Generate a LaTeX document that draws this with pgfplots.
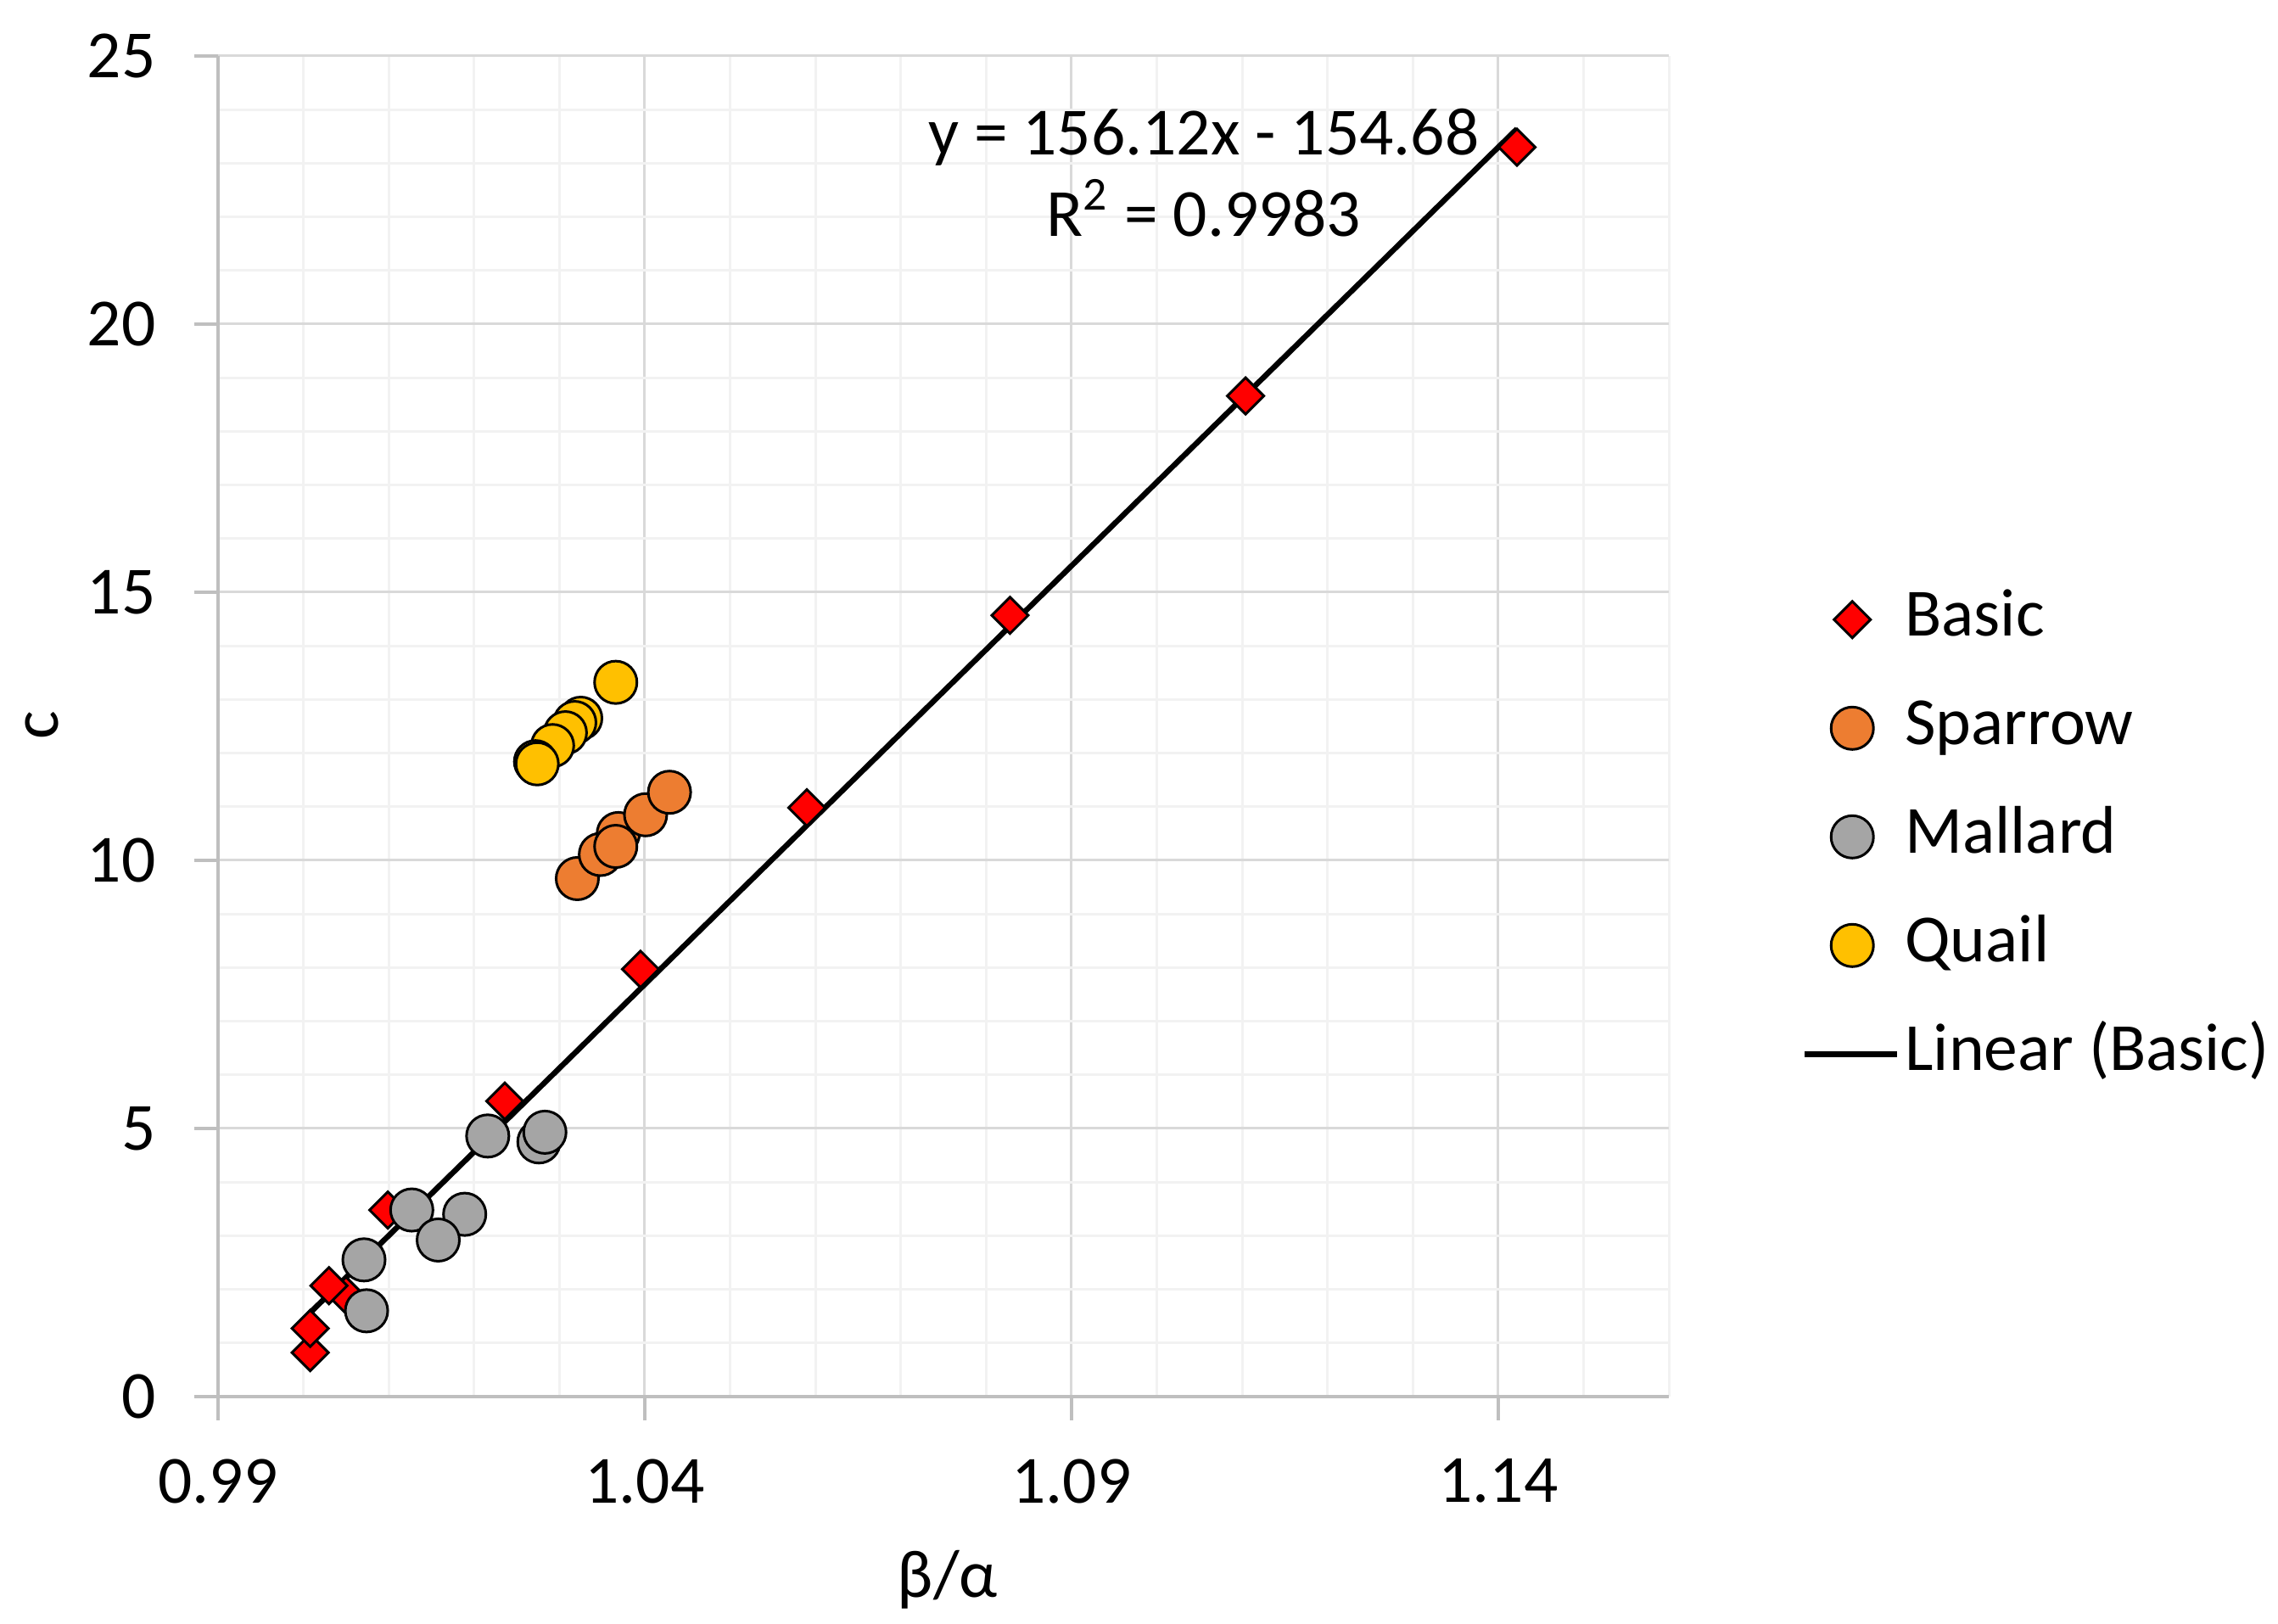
\documentclass[border=0pt]{standalone}
\usepackage{fontspec}
\setmainfont{Carlito}
\usepackage{pgfplots}
\pgfplotsset{compat=1.18}
\definecolor{basicred}{HTML}{FF0000}
\definecolor{sparrow}{HTML}{ED7D31}
\definecolor{mallard}{HTML}{A5A5A5}
\definecolor{quail}{HTML}{FFC000}
\definecolor{axisgray}{HTML}{BFBFBF}
\definecolor{majgrid}{HTML}{D9D9D9}
\definecolor{mingrid}{HTML}{F2F2F2}
\pgfplotsset{
  markleg/.style={legend image code/.code={\path[draw=none,fill=none] (0bp,-5bp) rectangle (21.8bp,5bp); \draw[##1,only marks] plot coordinates {(11.2bp,0bp)};}},
  lineleg/.style={legend image code/.code={\draw[##1] (0bp,0bp) -- (21.8bp,0bp);}},
}
\begin{document}
\fontsize{15.9bp}{19bp}\selectfont
\begin{tikzpicture}
\useasboundingbox (0,0) rectangle (537bp,382.8bp);
\begin{axis}[
  at={(51.4bp,53.6bp)}, anchor=south west,
  scale only axis, width=342bp, height=316bp,
  xmin=0.99, xmax=1.16, ymin=0, ymax=25,
  axis x line*=bottom, axis y line*=left,
  axis line style={draw=axisgray, line width=0.7bp},
  xtick={0.99,1.04,1.09,1.14},
  xticklabels={0.99,1.04,1.09,1.14},
  ytick={0,5,10,15,20,25},
  yticklabels={0,5,10,15,20,25},
  minor xtick={1.00,1.01,1.02,1.03,1.05,1.06,1.07,1.08,1.10,1.11,1.12,1.13,1.15,1.16},
  minor ytick={1,2,3,4,6,7,8,9,11,12,13,14,16,17,18,19,21,22,23,24},
  grid=both,
  major grid style={draw=majgrid, line width=0.6bp},
  minor grid style={draw=mingrid, line width=0.6bp},
  tick align=outside,
  major tick length=5.6bp, minor tick length=0pt,
  tick style={draw=axisgray, line width=0.7bp},
  xticklabel style={anchor=north, inner sep=0pt, yshift=-8.9bp},
  yticklabel style={anchor=east, inner sep=0pt, xshift=-8.9bp},
  xlabel={β/α}, ylabel={c},
  xlabel style={at={(axis description cs:0.5029,-0.15)}, anchor=base, inner sep=0pt},
  ylabel style={at={(axis description cs:-0.1211,0.5006)}, anchor=center, inner sep=0pt},
  legend style={at={(axis description cs:1.0918,0.6025)}, anchor=north west, draw=none, fill=none,
    inner sep=0pt, outer sep=0pt, row sep=11.1bp, column sep=1.2bp,
    nodes={inner sep=0pt, text height=11bp, text depth=3.5bp}},
  legend cell align=left,
  clip=false,
]
\addplot[only marks, mark=square*, mark size=3.04bp,
  mark options={rotate=45, fill=basicred, draw=black, line width=0.6bp}, markleg]
coordinates {
(1.0008,0.82) (1.0008,1.27) (1.0050,1.89) (1.0030,2.07) (1.0099,3.48) (1.0236,5.51)
(1.0395,7.97) (1.0590,10.98) (1.0828,14.57) (1.1104,18.66) (1.1422,23.30)
};
\addlegendentry{Basic}
\addplot[only marks, mark=*, mark size=5bp,
  mark options={fill=sparrow, draw=black, line width=0.6bp}, markleg]
coordinates {
(1.0321,9.66) (1.0348,10.11) (1.0369,10.50) (1.0401,10.85) (1.0429,11.27) (1.0366,10.26)
};
\addlegendentry{Sparrow}
\addplot[only marks, mark=*, mark size=5bp,
  mark options={fill=mallard, draw=black, line width=0.6bp}, markleg]
coordinates {
(1.0074,1.60) (1.0071,2.55) (1.0127,3.48) (1.0189,3.40) (1.0158,2.92)
(1.0216,4.86) (1.0276,4.75) (1.0283,4.93)
};
\addlegendentry{Mallard}
\addplot[only marks, mark=*, mark size=5bp,
  mark options={fill=quail, draw=black, line width=0.6bp}, markleg]
coordinates {
(1.0366,13.32) (1.0325,12.65) (1.0318,12.57) (1.0307,12.38) (1.0292,12.14)
(1.0272,11.84) (1.0274,11.80)
};
\addlegendentry{Quail}
\addplot[black, line width=1.3bp, no marks, lineleg]
coordinates {(1.0008,1.566) (1.1422,23.64)};
\addlegendentry{Linear (Basic)}
\node[anchor=base, inner sep=0pt] at (axis cs:1.1055,23.15) {y = 156.12x - 154.68};
\node[anchor=base, inner sep=0pt] at (axis cs:1.1055,21.63) {R\textsuperscript{2} = 0.9983};
\end{axis}
\end{tikzpicture}
\end{document}
